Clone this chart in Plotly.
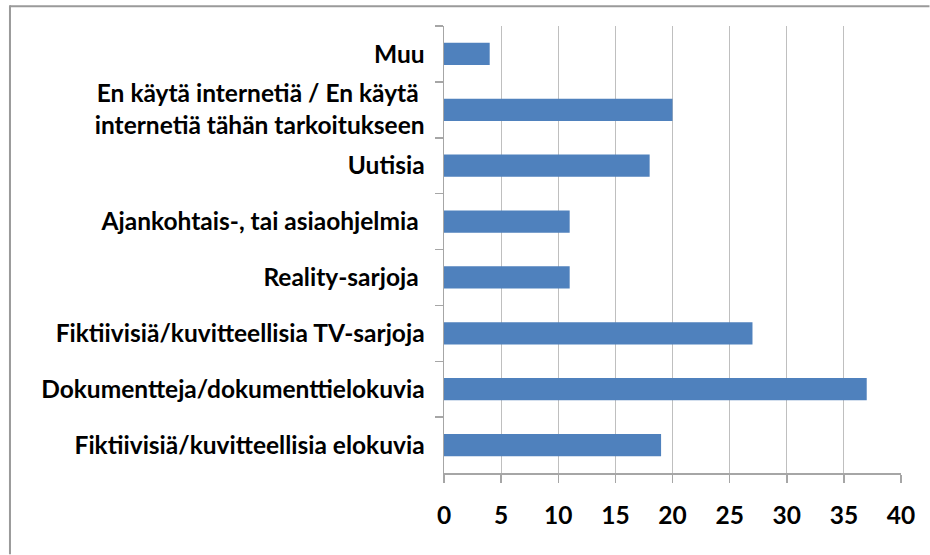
import plotly.graph_objects as go

categories = [
    "Muu",
    "En käytä internetiä / En käytä\u00a0<br>internetiä tähän tarkoitukseen",
    "Uutisia",
    "Ajankohtais-, tai asiaohjelmia\u00a0",
    "Reality-sarjoja\u00a0",
    "Fiktiivisiä/kuvitteellisia TV-sarjoja",
    "Dokumentteja/dokumenttielokuvia",
    "Fiktiivisiä/kuvitteellisia elokuvia",
]
values = [4, 20, 18, 11, 11, 27, 37, 19]
x_ticks = [0, 5, 10, 15, 20, 25, 30, 35, 40]

W, H = 930, 555
L, R, T, B = 444, 901.5, 25.7, 473.5

fig = go.Figure(go.Bar(
    x=values, y=categories, orientation="h",
    marker=dict(color="#4F81BD", line=dict(width=0)),
    width=0.4,
))

font = dict(family="Lato", size=24.5, color="#000000", weight="bold")

fig.update_layout(
    width=W, height=H,
    margin=dict(l=L, r=W - R, t=T, b=H - B, pad=0),
    paper_bgcolor="white", plot_bgcolor="white",
    showlegend=False,
    font=font,
    xaxis=dict(
        range=[0, 40], tickvals=x_ticks, ticktext=[str(v) for v in x_ticks],
        showgrid=True, gridcolor="#BFBFBF", gridwidth=1,
        showline=True, linecolor="#A6A6A6", linewidth=1.5,
        ticks="outside", ticklen=8, tickcolor="#A6A6A6", tickwidth=1.5,
        zeroline=False, tickfont=font, ticklabelstandoff=12,
        fixedrange=True,
    ),
    yaxis=dict(
        autorange="reversed", type="category",
        showgrid=False,
        showline=True, linecolor="#A6A6A6", linewidth=1.5,
        ticks="outside", ticklen=8, tickcolor="#A6A6A6", tickwidth=1.5,
        tickson="boundaries", tickfont=font, ticklabelstandoff=13,
        fixedrange=True,
    ),
    bargap=0.6,
)

def px_x(p):
    return (p - L) / (R - L)

def px_y(p):
    return (B - p) / (B - T)

# outer chart frame: left and top edges (right/bottom lie beyond the view)
fig.add_shape(
    type="line", xref="paper", yref="paper",
    x0=px_x(9.5), x1=px_x(930), y0=px_y(6), y1=px_y(6),
    line=dict(color="#9A9A9A", width=2),
)
fig.add_shape(
    type="line", xref="paper", yref="paper",
    x0=px_x(9.5), x1=px_x(9.5), y0=px_y(555), y1=px_y(5),
    line=dict(color="#9A9A9A", width=2),
)

fig.write_html(
    "out.html",
    config={"displayModeBar": False, "staticPlot": True},
    post_script="document.body.style.margin='0';document.body.style.padding='0';",
)
